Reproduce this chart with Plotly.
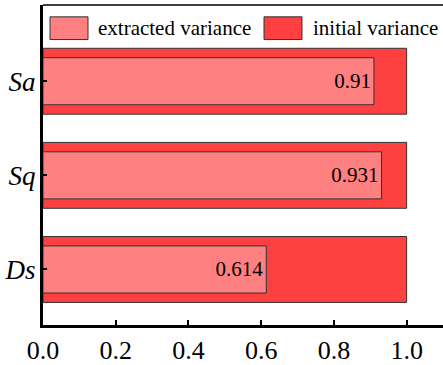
import plotly.graph_objects as go

categories = ["Ds", "Sq", "Sa"]
extracted = [0.614, 0.931, 0.91]
initial = [1.0, 1.0, 1.0]
extracted_labels = ["0.614", "0.931", "0.91"]
x_ticks = [0.0, 0.2, 0.4, 0.6, 0.8, 1.0]
legend_names = ["extracted variance", "initial variance"]

FONT = "Liberation Serif"
C_EXT = "#FF8080"
C_INI = "#FF4040"
EDGE = "#333333"

fig = go.Figure()
fig.add_trace(go.Bar(
    y=categories, x=initial, orientation="h", width=0.70,
    marker=dict(color=C_INI, line=dict(color=EDGE, width=1)),
    name=legend_names[1], showlegend=False, hoverinfo="skip",
))
fig.add_trace(go.Bar(
    y=categories, x=extracted, orientation="h", width=0.50,
    marker=dict(color=C_EXT, line=dict(color=EDGE, width=1)),
    text=extracted_labels, textposition="inside", insidetextanchor="end",
    textfont=dict(family=FONT, size=21, color="black"),
    textangle=0,
    name=legend_names[0], showlegend=False, hoverinfo="skip",
))

# custom legend (large swatches like the reference)
sw = [(0.0175, 0.1125, C_EXT, 0.1375), (0.5525, 0.6475, C_INI, 0.675)]
for (x0, x1, col, tx), name in zip(sw, legend_names):
    fig.add_shape(type="rect", xref="paper", yref="paper", x0=x0, x1=x1,
                  y0=0.892, y1=0.963, fillcolor=col,
                  line=dict(color=EDGE, width=1), layer="above")
    fig.add_annotation(xref="paper", yref="paper", x=tx, y=0.927,
                       text=name, showarrow=False, xanchor="left", yanchor="middle",
                       xshift=-2,
                       font=dict(family=FONT, size=21, color="black"))

# top frame line
fig.add_shape(type="line", xref="paper", yref="paper", x0=0, x1=1, y0=1, y1=1,
              line=dict(color="black", width=1.5))

fig.update_layout(
    width=443, height=365,
    margin=dict(l=43, r=0, t=5, b=37),
    barmode="overlay",
    plot_bgcolor="white", paper_bgcolor="white",
    showlegend=False,
    uniformtext=dict(mode=False),
)
fig.update_xaxes(
    range=[0, 1.1], tickvals=x_ticks, ticktext=[f"{v:.1f}" for v in x_ticks],
    showgrid=False, zeroline=False,
    showline=True, linecolor="black", linewidth=3,
    ticks="inside", ticklen=5, tickwidth=2, tickcolor="black",
    tickfont=dict(family=FONT, size=26, color="black"),
)
fig.update_yaxes(
    range=[-0.59, 2.81], categoryorder="array", categoryarray=categories,
    showgrid=False, zeroline=False,
    showline=True, linecolor="black", linewidth=3,
    ticks="inside", ticklen=4, tickwidth=2, tickcolor="black",
    tickfont=dict(family=FONT, size=27, color="black", style="italic"),
    ticklabelstandoff=-1,
)

fig.write_html(
    "out.html",
    config={"displayModeBar": False},
    post_script="document.body.style.margin='0';document.body.style.padding='0';",
)
